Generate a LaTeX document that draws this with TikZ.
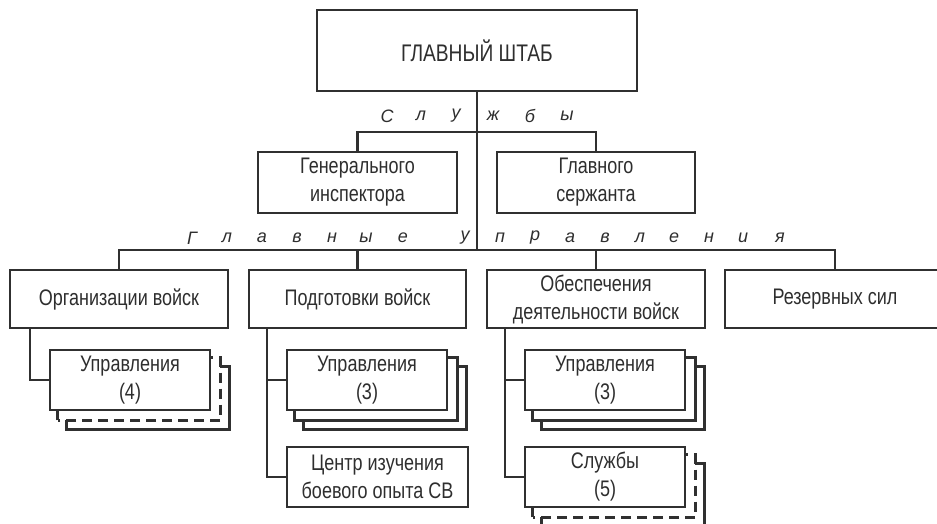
\documentclass[tikz,border=0pt]{standalone}
\usepackage{fontspec}
\setmainfont{Liberation Sans}
\newfontfamily\narrowfont[FakeStretch=0.8]{Liberation Sans}
\usetikzlibrary{backgrounds}
\definecolor{ink}{HTML}{303030}
\definecolor{txt}{HTML}{2e2e2e}
\tikzset{
  box line/.style={draw=ink, line width=2.6pt},
  unit/.style={box line, fill=white, inner sep=0pt, align=center, text=txt,
    font=\narrowfont\fontsize{22.5}{28}\selectfont},
  spaced/.style={text=txt, font=\fontsize{18}{22}\selectfont\itshape, inner sep=0pt},
  link/.style={draw=ink, line width=2.4pt},
}
% two copies behind a box, the middle one with style #2
\newcommand{\backstack}[2]{%
  \begin{scope}[on background layer]
    \draw[box line, fill=white] ([shift={(18,18)}]#1.south west) rectangle ([shift={(18,18)}]#1.north east);
    \draw[box line, fill=white, #2] ([shift={(9,9)}]#1.south west) rectangle ([shift={(9,9)}]#1.north east);
  \end{scope}}
\begin{document}
\begin{tikzpicture}[x=1pt, y=-1pt]
	\useasboundingbox (0,0) rectangle (937,524);
	\clip (0,0) rectangle (937,524);
	% top
	\node[unit, minimum width=320, minimum height=81, font=\narrowfont\fontsize{24}{28}\selectfont] (hq) at (477,50.5) {ГЛАВНЫЙ ШТАБ};
	\node[unit, minimum width=199, minimum height=61] (gen) at (357.5,182.5) {Генерального\\инспектора};
	\node[unit, minimum width=198, minimum height=61] (serg) at (596,182.5) {Главного\\сержанта};
	\foreach \ch/\xx [count=\i] in {С/387,л/421,у/456,ж/493,б/530,ы/567}
		\node[spaced] (sl\i) at (\xx,116) {\ch};
	% main directorates
	\node[unit, minimum width=218, minimum height=58] (org) at (119,299) {Организации войск};
	\node[unit, minimum width=217, minimum height=58] (podg) at (357.5,299) {Подготовки войск};
	\node[unit, minimum width=218, minimum height=58] (obesp) at (596,299) {Обеспечения\\деятельности войск};
	\node[unit, minimum width=220, minimum height=58] (rez) at (835,299) {Резервных сил};
	\foreach \ch/\xx [count=\i] in {Г/192,л/227,а/262,в/297,н/332,ы/366,е/403,у/465,п/500,р/535,а/570,в/605,л/640,е/674,н/709,и/743,я/780}
		\node[spaced] (gu\i) at (\xx,238) {\ch};
	% sub units
	\node[unit, minimum width=160, minimum height=60] (orgu) at (130,380) {Управления\\(4)};
	\node[unit, minimum width=160, minimum height=60] (podgu) at (367,380) {Управления\\(3)};
	\node[unit, minimum width=181, minimum height=60] (podgc) at (377.5,477) {Центр изучения\\боевого опыта СВ};
	\node[unit, minimum width=160, minimum height=60] (obespu) at (605,380) {Управления\\(3)};
	\node[unit, minimum width=160, minimum height=60] (obesps) at (605,477) {Службы\\(5)};
	\backstack{orgu}{dash pattern=on 10pt off 6pt}
	\backstack{podgu}{}
	\backstack{obespu}{}
	\backstack{obesps}{dash pattern=on 10pt off 6pt}
	% links
	\coordinate (bar1) at (477,132);
	\coordinate (bar2) at (477,250);
	\draw[link] (hq.south) -- (bar2);
	\draw[link] (gen.north) |- (bar1) -| (serg.north);
	\draw[link] (org.north) |- (bar2) -| (rez.north);
	\draw[link] (podg.north) -- (podg.north |- bar2);
	\draw[link] (obesp.north) -- (obesp.north |- bar2);
	\draw[link] (org.south west) ++(21,0) |- (orgu.west);
	\draw[link] (podg.south west) ++(19,0) coordinate (pv) |- (podgc.west);
	\draw[link] (podgu.west) -- (podgu.west -| pv);
	\draw[link] (obesp.south west) ++(19,0) coordinate (ov) |- (obesps.west);
	\draw[link] (obespu.west) -- (obespu.west -| ov);
\end{tikzpicture}
\end{document}
